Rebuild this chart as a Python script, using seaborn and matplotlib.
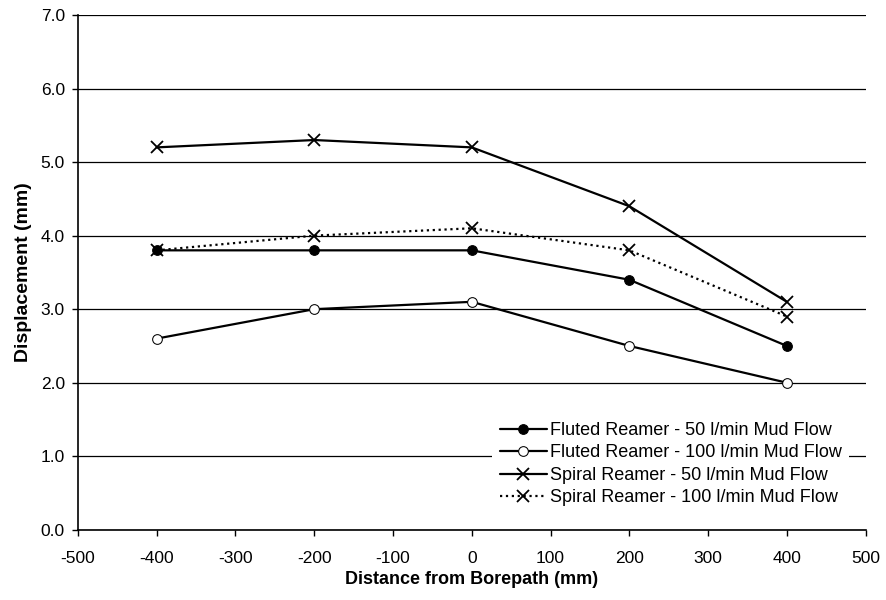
import matplotlib
matplotlib.use("Agg")
import matplotlib.pyplot as plt
import seaborn as sns
import pandas as pd

distance = [-400, -200, 0, 200, 400]
fluted_50 = [3.8, 3.8, 3.8, 3.4, 2.5]
fluted_100 = [2.6, 3.0, 3.1, 2.5, 2.0]
spiral_50 = [5.2, 5.3, 5.2, 4.4, 3.1]
spiral_100 = [3.8, 4.0, 4.1, 3.8, 2.9]
labels = ["Fluted Reamer - 50 l/min Mud Flow",
          "Fluted Reamer - 100 l/min Mud Flow",
          "Spiral Reamer - 50 l/min Mud Flow",
          "Spiral Reamer - 100 l/min Mud Flow"]

sns.set_theme(style="white")
plt.rcParams['font.family'] = ['Liberation Sans', 'DejaVu Sans']
plt.rcParams['axes.unicode_minus'] = False
plt.rcParams['text.color'] = 'black'
plt.rcParams['axes.labelcolor'] = 'black'

fig = plt.figure(figsize=(8.86, 6.0), dpi=100)
ax = fig.add_axes([0.088, 0.117, 0.889, 0.858])

series = [fluted_50, fluted_100, spiral_50, spiral_100]
styles = [
    dict(marker="o", markerfacecolor="black", markeredgecolor="black", linestyle="-", markersize=7),
    dict(marker="o", markerfacecolor="white", markeredgecolor="black", linestyle="-", markersize=7),
    dict(marker="x", markerfacecolor="black", markeredgecolor="black", linestyle="-", markersize=9, markeredgewidth=1.3),
    dict(marker="x", markerfacecolor="black", markeredgecolor="black", linestyle=":", markersize=9, markeredgewidth=1.3),
]
for vals, lab, st in zip(series, labels, styles):
    df = pd.DataFrame({"x": distance, "y": vals})
    sns.lineplot(data=df, x="x", y="y", ax=ax, color="black", linewidth=1.6,
                 label=lab, zorder=3, **st)

ax.set_xlim(-500, 500)
ax.set_ylim(0, 7)
ax.set_xticks(range(-500, 501, 100))
ax.set_yticks([i * 1.0 for i in range(8)])
ax.set_yticklabels([f"{i:.1f}" for i in range(8)])
ax.yaxis.grid(True, color="black", linewidth=0.9)
ax.xaxis.grid(False)
ax.set_axisbelow(True)
for s in ["top", "right"]:
    ax.spines[s].set_visible(False)
for s in ["left", "bottom"]:
    ax.spines[s].set_color("black")
    ax.spines[s].set_linewidth(1.2)
ax.tick_params(axis="both", direction="out", length=4, width=1, colors="black", labelsize=12.5, bottom=True, left=True)
ax.tick_params(axis="x", pad=11)
ax.tick_params(axis="y", pad=5.5)
ax.set_xlabel("Distance from Borepath (mm)", fontsize=13, fontweight="bold", labelpad=4, color="black")
ax.set_ylabel("Displacement (mm)", fontsize=14, fontweight="bold", labelpad=6, color="black")

leg = ax.legend(loc="lower right", fontsize=13, frameon=True, fancybox=False,
                facecolor="white", edgecolor="none", framealpha=1,
                handlelength=2.6, handletextpad=0.2, labelspacing=0.3,
                borderaxespad=0.9, labelcolor="black")
leg.set_zorder(5)

fig.savefig("out.png", dpi=100)
